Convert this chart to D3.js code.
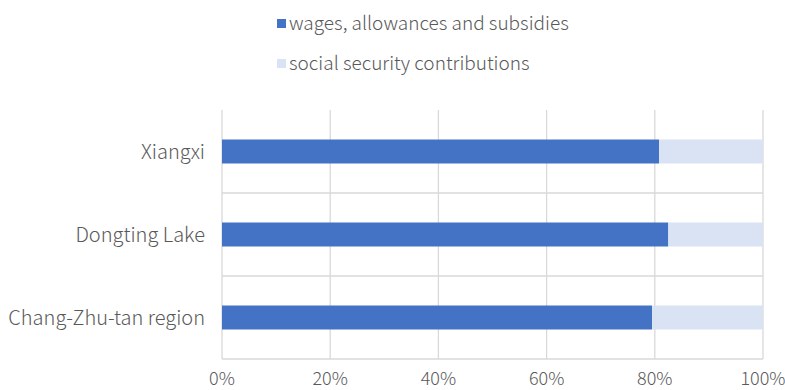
<!DOCTYPE html>
<html lang="en">
<head>
	<meta charset="utf-8">
	<script src="https://d3js.org/d3.v7.min.js"></script>
	<style>
		body { margin: 0; background: #fff; }
		text { font-family: "Noto Sans CJK SC", "Noto Sans", sans-serif; font-weight: 300; fill: #595959; }
	</style>
</head>
<body>
	<div id="Chart1"></div>
<script>

// data (shares, %)
var regions = ["Xiangxi", "Dongting Lake", "Chang-Zhu-tan region"];
var wages = [80.8, 82.5, 79.5];
var social = [19.2, 17.5, 20.5];
var seriesNames = ["wages, allowances and subsidies", "social security contributions"];
var seriesColors = ["#4472C4", "#DAE3F3"];
var xTicks = [0, 20, 40, 60, 80, 100];

var margin = {top: 110, right: 22, bottom: 31, left: 222},
  width = 785 - margin.left - margin.right,
  height = 390 - margin.top - margin.bottom;

var svgRoot = d3.select("#Chart1")
.append("svg")
  .attr("width", 785)
  .attr("height", 390);

var svg = svgRoot.append("g")
  .attr("transform", "translate(" + margin.left + "," + margin.top + ")");

var x = d3.scaleLinear()
  .domain([0, 100])
  .range([0, width]);

var y = d3.scaleBand()
  .domain(regions)
  .range([0, height]);

// gridlines
svg.append("g")
  .selectAll("line")
  .data(xTicks)
  .enter()
  .append("line")
    .attr("x1", function(d) { return x(d) })
    .attr("x2", function(d) { return x(d) })
    .attr("y1", 0)
    .attr("y2", height)
    .style("stroke", "#D9D9D9")
    .style("stroke-width", 1.3);

svg.append("g")
  .selectAll("line")
  .data(regions)
  .enter()
  .append("line")
    .attr("x1", 0)
    .attr("x2", width)
    .attr("y1", function(d) { return y(d) + y.bandwidth() })
    .attr("y2", function(d) { return y(d) + y.bandwidth() })
    .style("stroke", "#D9D9D9")
    .style("stroke-width", 1.3);

// stacked bars
var barH = 24;
var stacked = regions.map(function(r, i) { return {region: r, parts: [wages[i], social[i]]}; });

stacked.forEach(function(row) {
  var start = 0;
  row.parts.forEach(function(v, j) {
    svg.append("rect")
      .attr("x", x(start))
      .attr("y", y(row.region) + y.bandwidth() / 2 - barH / 2)
      .attr("width", x(start + v) - x(start))
      .attr("height", barH)
      .style("fill", seriesColors[j]);
    start += v;
  });
});

// category labels
svg.append("g")
  .selectAll("text")
  .data(regions)
  .enter()
  .append("text")
    .attr("x", -17)
    .attr("y", function(d) { return y(d) + y.bandwidth() / 2 })
    .attr("dy", "0.35em")
    .attr("text-anchor", "end")
    .style("font-size", "20px")
    .text(function(d) { return d });

// x tick labels
svg.append("g")
  .selectAll("text")
  .data(xTicks)
  .enter()
  .append("text")
    .attr("x", function(d) { return x(d) })
    .attr("y", height + 26)
    .attr("text-anchor", "middle")
    .style("font-size", "18px")
    .text(function(d) { return d + "%" });

// legend
var legend = svgRoot.append("g")
  .selectAll("g")
  .data(seriesNames)
  .enter()
  .append("g")
    .attr("transform", function(d, i) { return "translate(277," + (19 + i * 40) + ")" });

legend.append("rect")
  .attr("width", 9)
  .attr("height", 9)
  .style("fill", function(d, i) { return seriesColors[i] });

legend.append("text")
  .attr("x", 12)
  .attr("y", 4.5)
  .attr("dy", "0.35em")
  .style("font-size", "19px")
  .text(function(d) { return d });

</script>
</body>
</html>
